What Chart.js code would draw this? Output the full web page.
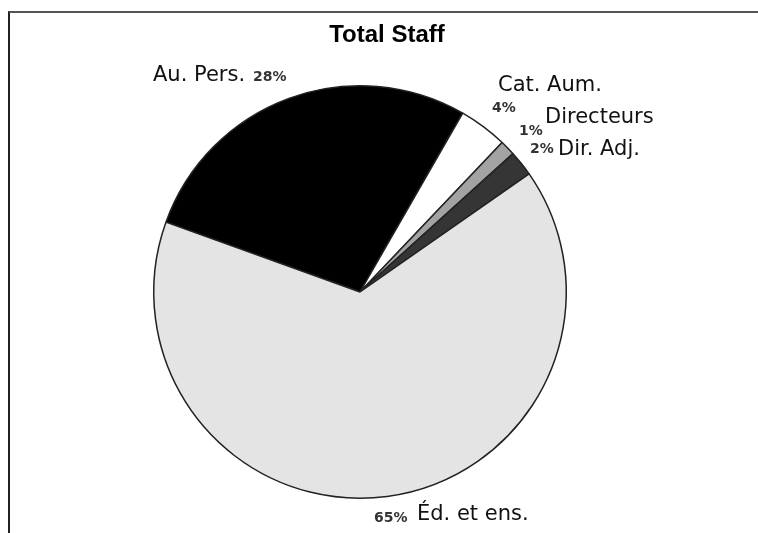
<!DOCTYPE html>
<html>
<head>
<meta charset="utf-8">
<script src="https://cdn.jsdelivr.net/npm/chart.js@4.4.0/dist/chart.umd.min.js"></script>
<style>
    body { margin: 0; background: #fff; }
    #frame {
        position: absolute; left: 8px; top: 11px; width: 760px; height: 530px;
        border-left: 2px solid #222; border-top: 2px solid #555;
    }
    #myChart { position: absolute; left: 0; top: 0; }
</style>
</head>
<body>
<div id="frame"></div>
<canvas id="myChart" width="758" height="533"></canvas>
<script>
const categories = ['Au. Pers.', 'Cat. Aum.', 'Directeurs', 'Dir. Adj.', 'Éd. et ens.'];
const shares = [27.8, 3.8, 1.2, 2.0, 65.2];
const percentLabels = ['28%', '4%', '1%', '2%', '65%'];
const sliceColors = ['#000000', '#ffffff', '#a3a3a3', '#353535', '#e4e4e4'];

// label placement relative to the pie centre: [name dx, name dy, pct dx, pct dy]
const labelOffsets = [
    [-207, -216, -107, -215],
    [138, -206, 132, -184],
    [185, -174, 159, -161],
    [198, -142, 170, -143],
    [57, 223, 14, 226]
];

const labelPlugin = {
    id: 'pieLabels',
    afterDraw(chart) {
        const ctx = chart.ctx;
        const arcs = chart.getDatasetMeta(0).data;
        const cx = arcs[0].x;
        const cy = arcs[0].y;
        ctx.save();
        ctx.textBaseline = 'middle';
        ctx.textAlign = 'left';

        ctx.fillStyle = '#000';
        ctx.font = 'bold 24px "Liberation Sans", Arial, sans-serif';
        ctx.textAlign = 'center';
        ctx.fillText('Total Staff', 387, 35);
        ctx.textAlign = 'left';

        categories.forEach((name, i) => {
            const off = labelOffsets[i];
            ctx.fillStyle = '#111';
            ctx.font = '21px "DejaVu Sans", sans-serif';
            ctx.fillText(name, cx + off[0], cy + off[1]);
            ctx.fillStyle = '#333';
            ctx.font = 'bold 14px "DejaVu Sans", sans-serif';
            ctx.fillText(percentLabels[i], cx + off[2], cy + off[3]);
        });
        ctx.restore();
    }
};

const ctx = document.getElementById('myChart');
const myChart = new Chart(ctx, {
    type: 'pie',
    data: {
        labels: categories,
        datasets: [{
            data: shares,
            backgroundColor: sliceColors,
            borderColor: '#222',
            borderWidth: 1.5
        }]
    },
    options: {
        responsive: false,
        animation: false,
        rotation: 289.8,
        layout: {
            padding: { top: 85, bottom: 34, left: 153, right: 191 }
        },
        plugins: {
            legend: { display: false },
            tooltip: { enabled: false }
        }
    },
    plugins: [labelPlugin]
});
</script>
</body>
</html>
